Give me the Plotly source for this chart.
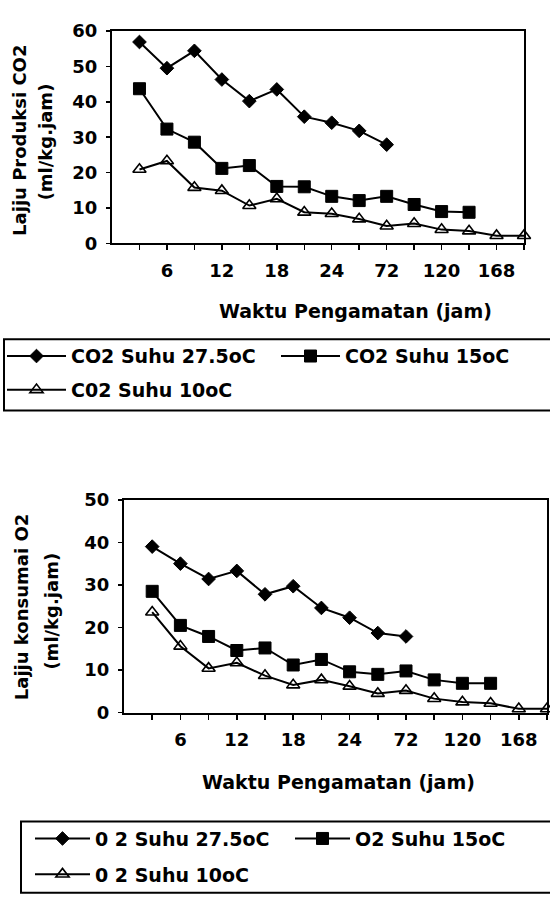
import plotly.graph_objects as go

# ---- data ----
hours = ["3", "6", "9", "12", "15", "18", "21", "24", "48", "72", "96", "120", "144", "168", "192"]
tick_text = ["", "6", "", "12", "", "18", "", "24", "", "72", "", "120", "", "168", ""]

co2_275 = [56.9, 49.5, 54.4, 46.3, 40.2, 43.5, 35.8, 34.1, 31.8, 27.9]
co2_15 = [43.7, 32.3, 28.6, 21.2, 22.0, 16.1, 16.0, 13.3, 12.1, 13.3, 11.0, 9.0, 8.8]
co2_10 = [20.9, 23.3, 15.8, 14.9, 10.7, 12.6, 8.8, 8.4, 6.9, 4.9, 5.6, 3.9, 3.5, 2.2, 2.2]

o2_275 = [39.0, 35.0, 31.4, 33.3, 27.8, 29.7, 24.6, 22.3, 18.7, 17.9]
o2_15 = [28.5, 20.5, 17.9, 14.6, 15.2, 11.2, 12.5, 9.6, 9.0, 9.8, 7.7, 6.9, 6.9]
o2_10 = [23.6, 15.6, 10.4, 11.7, 8.7, 6.5, 7.7, 6.2, 4.5, 5.2, 3.3, 2.5, 2.2, 0.9, 0.9]

names_top = ["CO2 Suhu 27.5oC", "CO2 Suhu 15oC", "C02 Suhu 10oC"]
names_bot = ["0 2 Suhu 27.5oC", "O2 Suhu 15oC", "0 2 Suhu 10oC"]

W, H = 550, 897
FONT = "DejaVu Sans, Liberation Sans, sans-serif"


def px_x(p):
    return p / W


def px_y(p):
    return 1 - p / H


fig = go.Figure()

styles = [
    dict(symbol="diamond", size=10.5, color="black", line=dict(color="black", width=1)),
    dict(symbol="square", size=12, color="black", line=dict(color="black", width=1)),
    dict(symbol="triangle-up-open", size=11.5, color="black", line=dict(color="black", width=1.6)),
]

for i, (vals, name, st) in enumerate(zip([co2_275, co2_15, co2_10], names_top, styles)):
    fig.add_trace(go.Scatter(
        x=hours[:len(vals)], y=vals, name=name, mode="lines+markers",
        line=dict(color="black", width=2), marker=st, cliponaxis=False,
        xaxis="x", yaxis="y", legend="legend", legendgroup="a%d" % i))

for i, (vals, name, st) in enumerate(zip([o2_275, o2_15, o2_10], names_bot, styles)):
    fig.add_trace(go.Scatter(
        x=hours[:len(vals)], y=vals, name=name, mode="lines+markers",
        line=dict(color="black", width=2), marker=st, cliponaxis=False,
        xaxis="x2", yaxis="y2", legend="legend2", legendgroup="b%d" % i))

tickfont = dict(family=FONT, size=18, color="black", weight=700)

xcommon = dict(type="category", categoryorder="array", categoryarray=hours,
               tickmode="array", tickvals=hours, ticktext=tick_text,
               range=[-1, 14], showgrid=False, zeroline=False,
               showline=True, linecolor="black", linewidth=2, mirror=True,
               ticks="outside", ticklen=5, tickcolor="black", tickwidth=1.5,
               tickfont=tickfont, ticklabelstandoff=5)
ycommon = dict(showgrid=False, zeroline=False, showline=True, linecolor="black",
               linewidth=2, mirror=True, ticks="outside", ticklen=4,
               tickcolor="black", tickwidth=1.5, tickfont=tickfont,
               ticklabelstandoff=5)

legfont = dict(family=FONT, size=19, color="black", weight=700)

fig.update_layout(
    width=W, height=H,
    margin=dict(l=0, r=0, t=0, b=0),
    paper_bgcolor="white", plot_bgcolor="white",
    font=dict(family=FONT, color="black"),
    xaxis=dict(domain=[px_x(112), px_x(524)], anchor="y", **xcommon),
    yaxis=dict(domain=[px_y(238), px_y(20.5)], anchor="x", range=[0, 60],
               tickvals=[0, 10, 20, 30, 40, 50, 60], **ycommon),
    xaxis2=dict(domain=[px_x(124), px_x(547)], anchor="y2", **xcommon),
    yaxis2=dict(domain=[px_y(718.5), px_y(500.5)], anchor="x2", range=[0, 50],
                tickvals=[0, 10, 20, 30, 40, 50], **ycommon),
    legend=dict(x=px_x(13), y=px_y(334), xanchor="left", yanchor="top",
                orientation="h", traceorder="grouped", tracegroupgap=6,
                entrywidth=200, itemwidth=59, borderwidth=0,
                bgcolor="rgba(0,0,0,0)", font=legfont),
    legend2=dict(x=px_x(40), y=px_y(828), xanchor="left", yanchor="top",
                 orientation="h", traceorder="grouped", tracegroupgap=8,
                 entrywidth=190, itemwidth=55, borderwidth=0,
                 bgcolor="rgba(0,0,0,0)", font=legfont),
)

# legend frames
fig.add_shape(type="rect", xref="paper", yref="paper",
              x0=px_x(4), x1=px_x(556), y0=px_y(409), y1=px_y(336),
              line=dict(color="black", width=2), layer="below")
fig.add_shape(type="rect", xref="paper", yref="paper",
              x0=px_x(21), x1=px_x(556), y0=px_y(903), y1=px_y(830),
              line=dict(color="black", width=2), layer="below")

title_font = dict(family=FONT, size=19, color="black", weight=700)
ytitle_font = dict(family=FONT, size=18, color="black", weight=700)
annotations = [
    dict(text="Waktu Pengamatan (jam)", x=px_x(355), y=px_y(307), font=title_font),
    dict(text="Waktu Pengamatan (jam)", x=px_x(338), y=px_y(789), font=title_font),
    dict(text="Lajju Produksi CO2", x=px_x(20), y=px_y(133), textangle=-90, font=ytitle_font),
    dict(text="(ml/kg.jam)", x=px_x(45.5), y=px_y(134), textangle=-90, font=ytitle_font),
    dict(text="Lajju konsumai O2", x=px_x(21.5), y=px_y(611), textangle=-90, font=ytitle_font),
    dict(text="(ml/kg.jam)", x=px_x(52), y=px_y(615), textangle=-90, font=ytitle_font),
]
for a in annotations:
    fig.add_annotation(xref="paper", yref="paper", showarrow=False,
                       xanchor="center", yanchor="middle", **a)

fig.write_html("out.html",
               config={"displayModeBar": False, "staticPlot": True},
               post_script="document.body.style.margin='0px';document.body.style.overflow='hidden';")
